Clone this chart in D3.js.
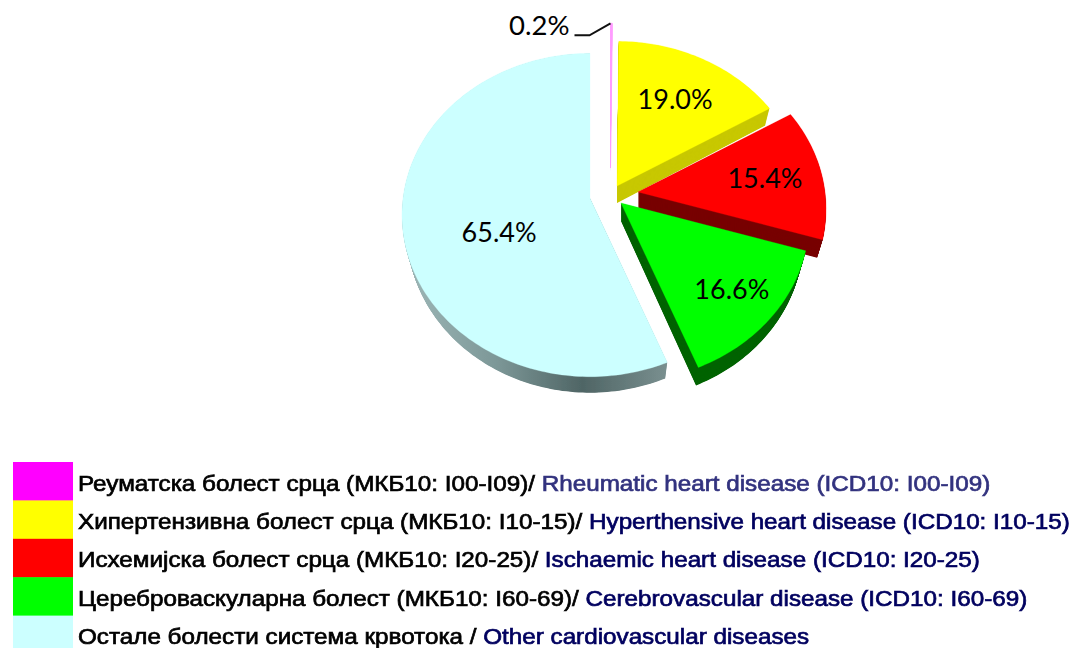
<!DOCTYPE html>
<html><head><meta charset="utf-8">
<script src="https://cdn.jsdelivr.net/npm/d3@7"></script>
<style>html,body{margin:0;padding:0;background:#fff;overflow:hidden}svg{display:block}</style>
</head><body><svg id="c" width="1071" height="648"></svg>
<script>
// ---- data ----
const values = [0.2, 19.0, 15.4, 16.6, 65.4];
const valueLabels = ["0.2%", "19.0%", "15.4%", "16.6%", "65.4%"];
const colors = ["#ff00ff", "#ffff00", "#ff0000", "#00ff00", "#ccffff"];
const sliceColors = ["#ff9cff", "#ffff00", "#ff0000", "#00ff00", "#ccffff"];
const wallColors = ["#ffc8ff", "#c8c800", "#780000", "#006400", "url(#wallOther)"];
const legendCyr = [
  "Реуматска болест срца (МКБ10: I00-I09)/ ",
  "Хипертензивна болест срца (МКБ10: I10-15)/ ",
  "Исхемијска болест срца (МКБ10: I20-25)/ ",
  "Цереброваскуларна болест (МКБ10: I60-69)/ ",
  "Остале болести система крвотока / "];
const legendEng = [
  "Rheumatic heart disease (ICD10: I00-I09)",
  "Hyperthensive heart disease (ICD10: I10-15)",
  "Ischaemic heart disease (ICD10: I20-25)",
  "Cerebrovascular disease (ICD10: I60-69)",
  "Other cardiovascular diseases"];
const legendEngColors = ["#33337f", "#00005f", "#00005f", "#00005f", "#00005f"];

// ---- layout ----
const cx = 592, cy = 198, R = 187, K = 0.855, D = 9.5;
const explodeX = [18.5, 25, 46, 29, -2];
const explodeY = [-30, -12, -6, 5, 0];
const depth = [7, 17, 18, 18, 16];
const labelR = [0, .66, .69, .76, .52];
const labelTurn = [0, 0, 0, 0, -13];
const drawOrder = [0, 1, 2, 4, 3];

const svg = d3.select("#c");
const defs = svg.append("defs");
const grad = defs.append("linearGradient").attr("id", "wallOther")
  .attr("gradientUnits", "userSpaceOnUse").attr("x1", 420).attr("x2", 670).attr("y1", 0).attr("y2", 0);
[[0, "#98b2b2"], [.3, "#7d9898"], [.65, "#4f6565"], [1, "#7b9191"]].forEach(s =>
  grad.append("stop").attr("offset", s[0]).attr("stop-color", s[1]));
defs.append("filter").attr("id", "soft").append("feGaussianBlur").attr("stdDeviation", 0.4);

const arcs = d3.pie().value(d => d).sort(null).startAngle(0).endAngle(2 * Math.PI)(values);

// Perspective projection of a point on the tilted pie disc
function project(i, angle, r, z) {
  const gx = Math.sin(angle) * r, gy = -Math.cos(angle) * r;
  const s = D / (D - gy);
  const x0 = cx + explodeX[i];
  const x = x0 + R * gx * s;
  const y = cy + explodeY[i] + R * K * gy * s + z;
  return [x + (x0 - x) * 0.03 * (z / 18), y];
}
function outline(i, a, z) {
  const n = Math.max(2, Math.ceil((a.endAngle - a.startAngle) / 0.02));
  const pts = [project(i, 0, 0, z)];
  d3.range(n + 1).forEach(k => pts.push(project(i, a.startAngle + (a.endAngle - a.startAngle) * k / n, 1, z)));
  return pts;
}
const line = d3.line().curve(d3.curveLinearClosed);

const pie = svg.append("g").attr("filter", "url(#soft)");
drawOrder.forEach(i => {
  const a = arcs[i], g = pie.append("g");
  g.selectAll("path.wall").data(d3.range(depth[i], 0, -0.5)).join("path")
    .attr("class", "wall").attr("d", z => line(outline(i, a, z))).attr("fill", wallColors[i]);
  g.append("path").attr("d", line(outline(i, a, 0))).attr("fill", sliceColors[i])
    .attr("stroke", sliceColors[i]).attr("stroke-width", i === 0 ? 0.9 : 0.3);
});

// value labels
const labelFont = "Lato, 'Open Sans', sans-serif";
arcs.forEach((a, i) => {
  if (i === 0) return;
  const mid = (a.startAngle + a.endAngle) / 2 + labelTurn[i] * Math.PI / 180;
  const p = project(i, mid, labelR[i], 0);
  svg.append("text").attr("x", p[0]).attr("y", p[1] + 9).attr("text-anchor", "middle")
    .attr("font-family", labelFont).attr("font-size", 27).attr("fill", "#000").text(valueLabels[i]);
});
// leader label for the sliver
const tip = project(0, arcs[0].startAngle, 1, 0);
svg.append("path").attr("fill", "none").attr("stroke", "#111").attr("stroke-width", 2)
  .attr("d", d3.line()([[tip[0] - 36, tip[1] + 12], [tip[0] - 21, tip[1] + 12], tip]));
svg.append("text").attr("x", tip[0] - 41).attr("y", tip[1] + 12).attr("text-anchor", "end")
  .attr("font-family", labelFont).attr("font-size", 27.5).attr("fill", "#000").text(valueLabels[0]);

// legend
const y = d3.scaleBand().domain(d3.range(values.length)).range([462, 654]);
const lg = svg.append("g");
lg.selectAll("rect").data(colors).join("rect")
  .attr("x", 13).attr("width", 60).attr("y", (d, i) => y(i)).attr("height", y.bandwidth() + .5).attr("fill", d => d);
const rows = lg.append("g").attr("filter", "url(#soft)").selectAll("text").data(values).join("text")
  .attr("transform", (d, i) => `translate(78,${y(i) + 28.5}) scale(1.087,1)`)
  .attr("font-family", "'Liberation Sans', Arial, sans-serif").attr("font-size", 22.3)
  .attr("stroke-width", 0.7).style("white-space", "pre");
rows.append("tspan").attr("fill", "#000").attr("stroke", "#000").text((d, i) => legendCyr[i]);
rows.append("tspan").attr("fill", (d, i) => legendEngColors[i]).attr("stroke", (d, i) => legendEngColors[i]).text((d, i) => legendEng[i]);
</script></body></html>
